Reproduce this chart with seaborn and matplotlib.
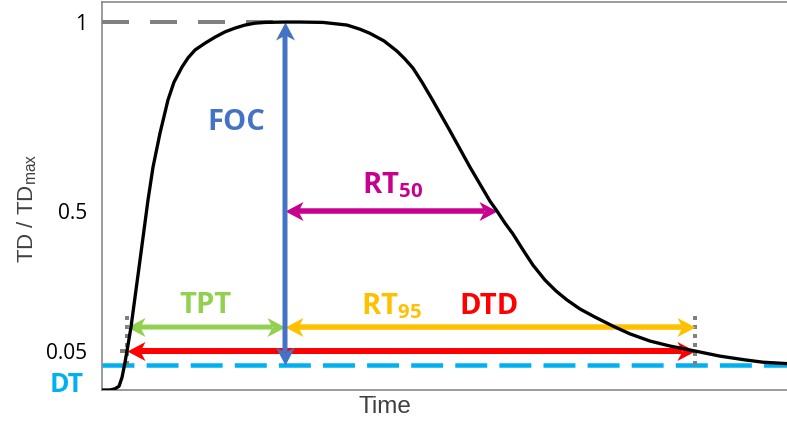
import numpy as np
import matplotlib
matplotlib.use("Agg")
import matplotlib.pyplot as plt
import seaborn as sns
from matplotlib.path import Path
from matplotlib.patches import FancyArrowPatch

# ---- data -------------------------------------------------------------
# normalised response TD/TDmax over time (arbitrary time units)
time = [0.00, 0.08, 0.13, 0.17, 0.20, 0.225, 0.25, 0.29, 0.38, 0.46, 0.51,
        0.58, 0.66, 0.72, 0.80, 0.86, 0.93, 1.03, 1.13, 1.23, 1.33, 1.43,
        1.53, 1.63, 1.83, 1.98, 2.21, 2.45, 2.58, 2.68, 2.82, 2.95, 3.03,
        3.11, 3.20, 3.30, 3.39, 3.48, 3.58, 3.68, 3.78, 3.88, 3.95, 4.03,
        4.11, 4.21, 4.31, 4.43, 4.54, 4.65, 4.78, 4.93, 5.11, 5.28, 5.48,
        5.68, 5.93, 6.18, 6.43, 6.61, 6.85]
td_norm = [0.000, 0.000, 0.001, 0.003, 0.010, 0.020, 0.050, 0.127, 0.342,
           0.529, 0.616, 0.706, 0.794, 0.841, 0.881, 0.905, 0.926, 0.944,
           0.960, 0.974, 0.984, 0.992, 0.997, 0.999, 1.000, 1.000, 0.999,
           0.992, 0.981, 0.970, 0.950, 0.923, 0.902, 0.878, 0.841, 0.796,
           0.754, 0.712, 0.664, 0.616, 0.571, 0.526, 0.500, 0.461, 0.426,
           0.375, 0.326, 0.278, 0.243, 0.214, 0.185, 0.159, 0.130, 0.105,
           0.082, 0.066, 0.050, 0.039, 0.031, 0.026, 0.023]

# characteristic times
t_onset = 0.25   # response reaches 5 %
t_peak = 1.83    # maximum
t_half = 3.95    # decayed to 50 %
t_end = 5.93     # decayed to 5 %

# levels
dt_level = 0.02          # detection threshold
ytick_values = [0.05, 0.5, 1.0]
ytick_labels = ["0.05", "0.5", "1"]
marker_level = 0.127     # height of the TPT / RT95 arrows
marker_top = 0.166       # top of the dotted guides

# ---- style ------------------------------------------------------------
sns.set_theme(style="white")
plt.rcParams["font.family"] = ["Open Sans", "DejaVu Sans"]
plt.rcParams["mathtext.fontset"] = "custom"
plt.rcParams["mathtext.bf"] = "Open Sans:bold"
plt.rcParams["mathtext.rm"] = "Liberation Sans"
plt.rcParams["mathtext.it"] = "Liberation Sans:italic"

GREY = "#808080"
BLUE = "#4472C4"
MAGENTA = "#C8008F"
GREEN = "#92D050"
GOLD = "#FFC000"
RED = "#FF0000"
CYAN = "#00B0F0"

DPI = 100
fig = plt.figure(figsize=(7.87, 4.25), dpi=DPI)
ax = fig.add_axes([102 / 787, 35 / 425, 698 / 787, 388 / 425])

# schematic (piecewise-linear) vertical scale
anch_v = [-1.0, 0.0, 0.02, 0.05, 0.5, 1.0, 2.0]
anch_h = [-1250.0, 0.0, 25.0, 39.0, 179.0, 368.0, 746.0]


def fwd(v):
    return np.interp(v, anch_v, anch_h)


def inv(h):
    return np.interp(h, anch_h, anch_v)


ax.set_yscale("function", functions=(fwd, inv))
ax.set_xlim(0, 6.98)
ax.set_ylim(0, 1.053)

PX = 72 / DPI  # points per pixel


def pt(px):
    return px * PX


# response curve
sns.lineplot(x=time, y=td_norm, ax=ax, color="black", linewidth=pt(3.3),
             zorder=10, sort=False)
ax.lines[-1].set_solid_joinstyle("round")

# reference lines
ax.plot([0, t_peak], [1, 1], color=GREY, lw=pt(4), dashes=(6.75, 5.25),
        solid_capstyle="butt", dash_capstyle="butt", zorder=3)
ax.plot([0, 6.98], [dt_level, dt_level], color=CYAN, lw=pt(4.5),
        dashes=(7.1, 2.7), dash_capstyle="butt", zorder=3)
ax.plot([t_onset - 0.07, t_onset], [0.05, 0.05], color=GREY, lw=pt(4),
        solid_capstyle="butt", zorder=3)
for t in (t_onset, t_end):
    ax.plot([t, t], [dt_level, marker_top], color=GREY, lw=pt(4),
            ls=(0, (1, 1.25)), dash_capstyle="butt", zorder=4)

# arrow heads as custom markers (tip at the origin)
HEAD = np.array([[0, 0], [-18, 9.5], [-13, 0], [-18, -9.5], [0, 0]], float)
CODES = [Path.MOVETO, Path.LINETO, Path.LINETO, Path.LINETO, Path.CLOSEPOLY]


def head(direction):
    x, y = HEAD[:, 0], HEAD[:, 1]
    verts = {"right": np.c_[x, y], "left": np.c_[-x, y],
             "up": np.c_[y, x], "down": np.c_[y, -x]}[direction]
    return Path(verts, CODES)


HEAD_MS = pt(36)


def double_arrow(p0, p1, color, lw_px, z):
    ax.add_patch(FancyArrowPatch(p0, p1, arrowstyle="-", shrinkA=pt(13),
                                 shrinkB=pt(13), color=color,
                                 lw=pt(lw_px), capstyle="butt", zorder=z))
    if p0[1] == p1[1]:
        d0, d1 = "left", "right"
    else:
        d0, d1 = ("down", "up") if p1[1] > p0[1] else ("up", "down")
    for (x, y), d in ((p0, d0), (p1, d1)):
        ax.plot([x], [y], marker=head(d), ms=HEAD_MS, mfc=color, mec=color,
                mew=0, ls="none", zorder=z, clip_on=False)


double_arrow((t_peak, 0.5), (t_half, 0.5), MAGENTA, 5.5, 6)
double_arrow((t_onset, marker_level), (t_peak, marker_level), GREEN, 5, 6)
double_arrow((t_peak, marker_level), (t_end, marker_level), GOLD, 5.5, 6)
double_arrow((t_onset, 0.05), (t_end, 0.05), RED, 6, 6)
double_arrow((t_peak, dt_level), (t_peak, 1.0), BLUE, 5, 7)

# labels
lab = dict(fontweight="bold", fontsize=21, ha="center", va="baseline",
           zorder=12)
ax.text(1.34, 0.735, "FOC", color=BLUE, fontweight="bold", fontsize=21,
        ha="center", va="center", zorder=12)
ax.text(2.90, 0.548, r"$\mathbf{RT}_{\mathbf{50}}$", color=MAGENTA, **lab)
ax.text(1.04, 0.172, "TPT", color=GREEN, **lab)
ax.text(2.89, 0.169, r"$\mathbf{RT}_{\mathbf{95}}$", color=GOLD, **lab)
ax.text(3.87, 0.169, "DTD", color=RED, **lab)
ax.text(-0.35, -0.0016, "DT", color=CYAN, fontweight="bold", fontsize=19,
        ha="center", va="baseline", clip_on=False)

# axes
ax.set_yticks(ytick_values)
ax.set_yticklabels(ytick_labels)
ax.minorticks_off()
ax.set_xticks([])
ax.tick_params(axis="y", direction="inout", length=pt(16), width=pt(4),
               color=GREY, labelsize=15, pad=5, labelcolor="black")
for side in ("left", "bottom", "top"):
    ax.spines[side].set_color("#8a8a8a")
    ax.spines[side].set_linewidth(1.2)
ax.spines["right"].set_visible(False)

fig.text(385 / 787, 1 - 407 / 425, "Time", color="#404040", fontsize=17.5,
         family=["Liberation Sans"], ha="center", va="center")
fig.text(27 / 787, 1 - 208 / 425, r"TD / TD$_{\mathrm{max}}$",
         color="#404040", fontsize=16, family=["Liberation Sans"],
         rotation=90, ha="center", va="center")

fig.savefig("out.png", dpi=DPI)
